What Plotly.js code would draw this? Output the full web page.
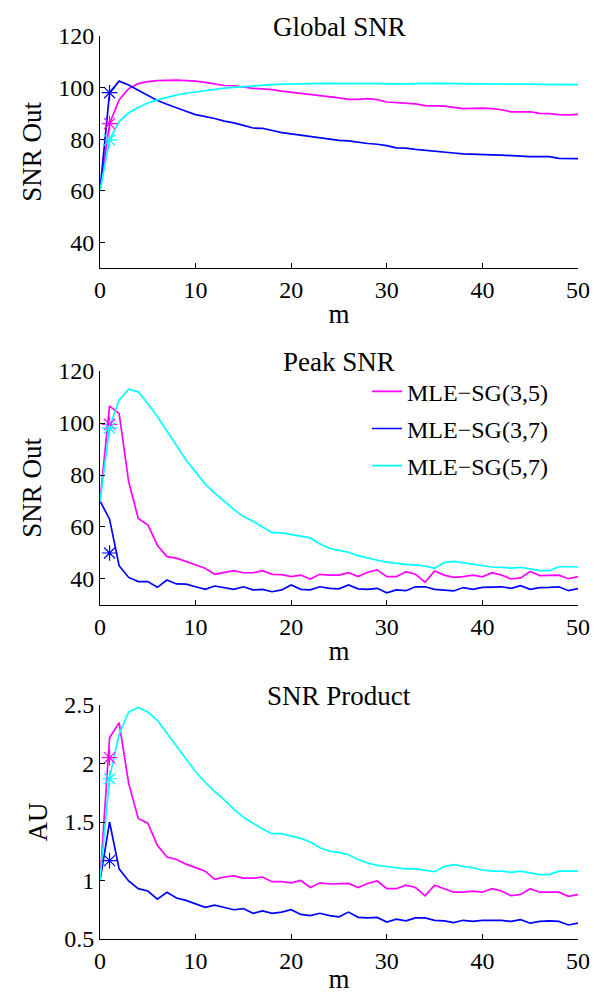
<!DOCTYPE html>
<html><head><meta charset="utf-8">
<script src="https://cdn.plot.ly/plotly-3.0.1.min.js"></script>
<style>html,body{margin:0;padding:0;background:#fff}</style>
</head><body><div id="chart" style="width:594px;height:994px"></div>
<script>
const m = [0,1,2,3,4,5,6,7,8,9,10,11,12,13,14,15,16,17,18,19,20,21,22,23,24,25,26,27,28,29,30,31,32,33,34,35,36,37,38,39,40,41,42,43,44,45,46,47,48,49,50];
const seriesNames = ['MLE\u2212SG(3,5)','MLE\u2212SG(3,7)','MLE\u2212SG(5,7)'];
const seriesColors = ['#ff00ff','#0000ff','#00ffff'];
const panelTitles = ['Global SNR','Peak SNR','SNR Product'];
const yTitles = ['SNR Out','SNR Out','AU'];
const xTitle = 'm';
const xTicks = [0,10,20,30,40,50];
const yTicks12 = [40,60,80,100,120];
const yTicks3 = [0.5,1,1.5,2,2.5];

// Global SNR
const global35 = [60,86,95.2,99.6,101.5,102.3,102.7,102.8,102.9,102.7,102.5,102,101.3,100.8,100.7,100.2,99.7,99.5,99.2,98.6,98.2,97.8,97.4,96.9,96.6,96,95.4,95.4,95.7,95.3,94.4,94.2,93.9,93.7,93,92.9,92.8,92.3,91.8,91.9,92,91.8,91.4,90.6,90.6,90.6,90,89.9,89.5,89.4,89.6];
const global37 = [60,98,102.5,101,99,97,95,93.5,92,90.8,89.5,88.8,88,87,86.3,85.3,84.3,84.2,83.2,82.5,82,81.5,81,80.5,80,79.5,79.3,78.7,78.3,78,77.5,76.6,76.5,76,75.6,75.2,74.8,74.6,74.3,74.1,74,73.9,73.8,73.7,73.4,73.2,73.2,73.2,72.5,72.4,72.4];
const global57 = [60,79.7,86.8,90.2,92.3,94,95.2,96.3,97.1,97.8,98.3,98.8,99.4,99.8,100.1,100.4,100.7,100.9,101.1,101.3,101.4,101.5,101.6,101.6,101.6,101.5,101.6,101.6,101.5,101.5,101.4,101.4,101.4,101.5,101.6,101.6,101.6,101.5,101.5,101.5,101.5,101.4,101.4,101.4,101.3,101.3,101.2,101.2,101.2,101.1,101.1];
const globalStars = [86,98,79.7];

// Peak SNR
const peak35 = [70,106.5,103.7,77.4,63.3,60.8,53,48.6,48,46.7,45.4,44.1,41.8,42.6,43.2,42.4,42.4,43.2,41.8,41.7,40.9,41.5,40,41.8,41.5,41.5,42.4,40.9,42.6,43.5,40.9,40.9,42.8,41.8,38.7,43.1,41.5,40.6,40.9,41.5,40.8,42.4,41.5,40,40.4,42.9,41.3,41.4,41.5,40.1,40.9];
const peak37 = [70,63,45.1,40.6,39,39,36.8,39.6,38.1,38,37,36,37.3,36.7,36,37,35.8,36,35.1,35.8,37.7,36,35.8,37,36.4,36.2,37.7,36.2,36,36.4,34.7,35.8,35.5,37,37,36,35.6,35.4,36.7,36,36.8,36.8,37,36.4,37.4,36,36.7,36.8,37,35.5,36.3];
const peak57 = [69.7,98.5,108.8,113,112,107.5,102.5,97,91,85.8,81.2,76.5,73,69.8,66.8,64,62.2,60,57.8,57.7,57,56.5,55.8,53.5,51.8,51,50.3,49,48,47.2,46.5,46,45.6,45.4,45,44.1,46.3,46.8,46.3,45.8,45.2,44.6,44.5,44.2,44.5,43.8,43.2,43.2,44.7,44.7,44.6];
const peakStars = [99.5,50,98];

// SNR Product
const prod35 = [1,2.22,2.35,1.83,1.53,1.49,1.3,1.2,1.18,1.14,1.11,1.08,1.01,1.03,1.04,1.02,1.02,1.03,0.99,0.99,0.98,1,0.94,0.98,0.97,0.975,0.975,0.94,0.975,0.996,0.93,0.93,0.96,0.94,0.87,0.96,0.93,0.9,0.9,0.91,0.9,0.93,0.91,0.87,0.88,0.93,0.9,0.9,0.9,0.865,0.88];
const prod37 = [1,1.5,1.1,0.996,0.93,0.91,0.84,0.9,0.85,0.83,0.8,0.77,0.79,0.77,0.75,0.76,0.72,0.74,0.72,0.73,0.75,0.71,0.7,0.72,0.7,0.69,0.73,0.685,0.68,0.685,0.645,0.67,0.655,0.68,0.68,0.66,0.655,0.64,0.66,0.65,0.66,0.66,0.66,0.65,0.665,0.635,0.65,0.655,0.65,0.62,0.635];
const prod57 = [1,1.88,2.25,2.44,2.48,2.44,2.37,2.26,2.14,2.04,1.93,1.84,1.76,1.69,1.61,1.54,1.49,1.44,1.4,1.4,1.38,1.36,1.33,1.28,1.25,1.24,1.22,1.18,1.15,1.13,1.12,1.11,1.1,1.1,1.09,1.075,1.12,1.135,1.12,1.11,1.09,1.08,1.08,1.07,1.08,1.067,1.05,1.05,1.08,1.08,1.08];
const prodStars = [2.05,1.17,1.87];
const starM = [1];

const FONT = '"Liberation Serif", "Times New Roman", serif';
const panels = [
  {lines:[global35,global37,global57], stars:globalStars, yr:[30,120], yt:yTicks12, dom:[0.7431,1]},
  {lines:[peak35,peak37,peak57], stars:peakStars, yr:[30,120], yt:yTicks12, dom:[0.3699,0.6290]},
  {lines:[prod35,prod37,prod57], stars:prodStars, yr:[0.5,2.5], yt:yTicks3, dom:[0,0.2591]}
];

const traces = [];
const layout = {
  width:594, height:994,
  margin:{l:100,r:16,t:36,b:55},
  paper_bgcolor:'#fff', plot_bgcolor:'#fff',
  font:{family:FONT, color:'#000', size:23},
  showlegend:true,
  legend:{x:0.5586, xanchor:'left', y:0.631, yanchor:'top', bgcolor:'rgba(0,0,0,0)', borderwidth:0,
          font:{family:FONT,size:24,color:'#000'}, tracegroupgap:3},
  annotations:[]
};

panels.forEach((p,i)=>{
  const sfx = i===0?'':String(i+1);
  p.lines.forEach((vals,k)=>{
    traces.push({x:m, y:vals, type:'scatter', mode:'lines', xaxis:'x'+sfx, yaxis:'y'+sfx,
      name:seriesNames[k], legendgroup:'g'+k, showlegend:i===1,
      line:{color:seriesColors[k], width:1.7}});
  });
  p.stars.forEach((v,k)=>{
    traces.push({x:starM, y:[v], type:'scatter', mode:'markers', xaxis:'x'+sfx, yaxis:'y'+sfx,
      showlegend:false, hoverinfo:'skip',
      marker:{symbol:'asterisk-open', size:13, color:seriesColors[k], line:{color:seriesColors[k], width:1.2}}});
  });
  const axCommon = {showline:true, linecolor:'#000', linewidth:1, ticks:'inside', ticklen:5, tickwidth:1,
    tickcolor:'#000', showgrid:false, zeroline:false, mirror:false, tickfont:{family:FONT,size:24,color:'#000'}};
  layout['xaxis'+sfx] = Object.assign({}, axCommon, {anchor:'y'+sfx, domain:[0,1], range:[0,50],
    tickvals:xTicks, title:{text:xTitle, font:{family:FONT,size:27,color:'#000'}, standoff:2}});
  layout['yaxis'+sfx] = Object.assign({}, axCommon, {anchor:'x'+sfx, domain:p.dom, range:p.yr,
    tickvals:p.yt, title:{text:yTitles[i], font:{family:FONT,size:27,color:'#000'}, standoff:8}});
  layout.annotations.push({text:panelTitles[i], xref:'paper', yref:'paper', x:0.5, y:p.dom[1],
    xanchor:'center', yanchor:'middle', yshift:9, showarrow:false, font:{family:FONT,size:27,color:'#000'}});
});

Plotly.newPlot('chart', traces, layout, {displayModeBar:false, staticPlot:true});
</script>
</body></html>
